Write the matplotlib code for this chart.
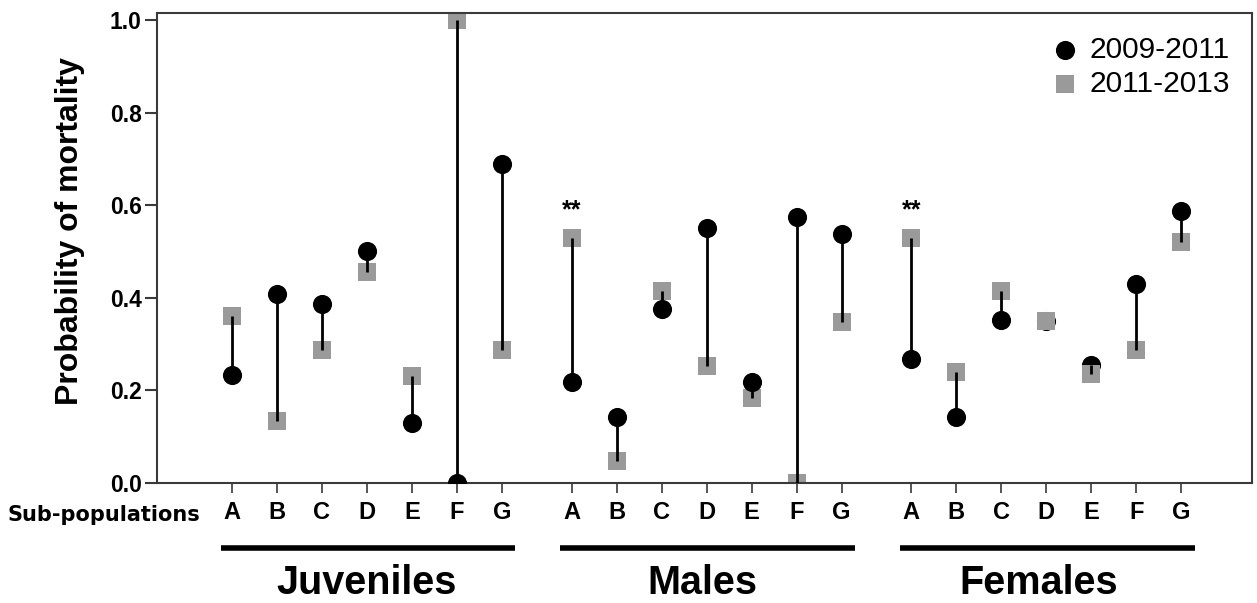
import matplotlib.pyplot as plt
import matplotlib.transforms as mtransforms
import numpy as np

plt.rcParams['font.family'] = ['Liberation Sans', 'DejaVu Sans']

# ---- DATA ----
groups = ["Juveniles", "Males", "Females"]
subpops = ["A", "B", "C", "D", "E", "F", "G"]
p_2009_2011 = {
    "Juveniles": [0.234, 0.408, 0.386, 0.502, 0.129, 0.0, 0.689],
    "Males": [0.219, 0.143, 0.376, 0.552, 0.219, 0.574, 0.538],
    "Females": [0.268, 0.142, 0.352, 0.351, 0.256, 0.430, 0.588],
}
p_2011_2013 = {
    "Juveniles": [0.360, 0.134, 0.288, 0.456, 0.232, 1.0, 0.288],
    "Males": [0.529, 0.048, 0.414, 0.252, 0.183, 0.0, 0.347],
    "Females": [0.529, 0.239, 0.414, 0.351, 0.235, 0.288, 0.520],
}
significant = {"Males": "A", "Females": "A"}

# ---- LAYOUT ----
group_step = 7.55
label_shift = [0.0, -0.1, -0.18]
grey = "#9a9a9a"
spine_col = "#3a3a3a"

fig = plt.figure(figsize=(12.57, 6.03), dpi=100)
ax = fig.add_axes([157 / 1257, 1 - 483 / 603, 1095 / 1257, 470 / 603])

trans = mtransforms.blended_transform_factory(ax.transData, ax.transAxes)
ticks, ticklabels = [], []

for g, name in enumerate(groups):
    x = np.arange(len(subpops)) + g * group_step
    y1 = np.array(p_2009_2011[name])
    y2 = np.array(p_2011_2013[name])
    z_circ, z_sq = (3, 2) if name != "Females" else (2, 3)
    ax.scatter(x, y2, marker="s", s=185, color=grey, zorder=z_sq, lw=0, label="2011-2013" if g == 0 else None)
    ax.scatter(x, y1, marker="o", s=190, color="black", zorder=z_circ, lw=0, label="2009-2011" if g == 0 else None)
    ax.vlines(x, y1, y2, color="black", lw=2.0, zorder=4)

    ticks += list(x)
    ticklabels += subpops

    if name in significant:
        xi = x[subpops.index(significant[name])]
        ax.text(xi, 0.59, "**", ha="center", va="center", fontsize=18, fontweight="bold")

    # group underline + label
    ax.plot([x[0] - 0.25, x[-1] + 0.3], [-0.138, -0.138], transform=trans, color="black",
            lw=4, clip_on=False, solid_capstyle="butt")
    ax.text(x.mean() + label_shift[g], -0.213, name, transform=trans, ha="center", va="center",
            fontsize=28.5, fontweight="bold")

ax.text(-0.71, -0.068, "Sub-populations", transform=trans, ha="right", va="center",
        fontsize=15, fontweight="bold", family="DejaVu Sans")

ax.set_xlim(-1.667, 22.67)
ax.set_ylim(0, 1.016)
ax.set_yticks([0.0, 0.2, 0.4, 0.6, 0.8, 1.0])
ax.set_yticklabels([f"{v:.1f}" for v in [0.0, 0.2, 0.4, 0.6, 0.8, 1.0]], fontsize=16.5, fontweight="bold")
ax.set_xticks(ticks)
ax.set_xticklabels(ticklabels, fontsize=17, fontweight="bold")
ax.tick_params(axis="y", length=9, width=1.5, color=spine_col, pad=2)
ax.tick_params(axis="x", length=7, width=1.2, color=spine_col, pad=6)
for sp in ax.spines.values():
    sp.set_color(spine_col)
    sp.set_linewidth(1.5)

ax.set_ylabel("Probability of mortality", fontsize=23, fontweight="bold")
ax.yaxis.set_label_coords(-0.066, 0.536)

h, l = ax.get_legend_handles_labels()
ax.legend(h[::-1], l[::-1], loc="upper right", bbox_to_anchor=(0.996, 0.99), frameon=False,
          fontsize=21.5, handletextpad=0.3, labelspacing=0.2, borderaxespad=0.2,
          handlelength=1.0, markerscale=1.0)

fig.savefig("out.png", dpi=100)
